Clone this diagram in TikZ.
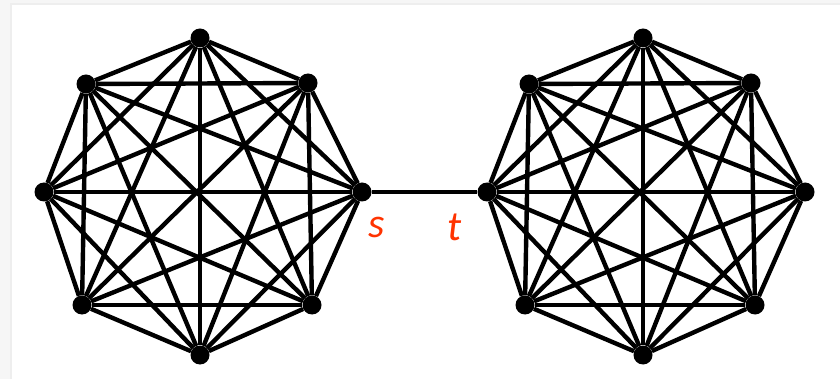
\documentclass[tikz,border=0pt]{standalone}
\usepackage{fontspec}
\newfontfamily\labelfont{Carlito}
\definecolor{stred}{RGB}{255,51,0}

\begin{document}
\begin{tikzpicture}[x=1pt, y=-1pt,
    vertex/.style={shape=circle, fill, inner sep=0pt, minimum size=19pt},
    edge/.style={line width=4.4pt},
    lbl/.style={text=stred, font=\labelfont\itshape\fontsize{42}{42}\selectfont}]

      \useasboundingbox (0,0) rectangle (840,379);
      \fill[gray!7] (0,0) rectangle (840,379);
      \fill[gray!13] (10,3) rectangle (840,379);
      \fill[white] (12,5) rectangle (840,379);

      % left clique
      \node[vertex] (a1) at (44,192){};
      \node[vertex] (a2) at (86,84){};
      \node[vertex] (a3) at (200,38){};
      \node[vertex] (a4) at (308,83){};
      \node[vertex] (a5) at (362,192){};
      \node[vertex] (a6) at (312,305){};
      \node[vertex] (a7) at (200,355){};
      \node[vertex] (a8) at (82,305){};

      % right clique
      \node[vertex] (b1) at (487,192){};
      \node[vertex] (b2) at (529,84){};
      \node[vertex] (b3) at (643,38){};
      \node[vertex] (b4) at (751,83){};
      \node[vertex] (b5) at (805,192){};
      \node[vertex] (b6) at (755,305){};
      \node[vertex] (b7) at (643,355){};
      \node[vertex] (b8) at (525,305){};

      \node[lbl] (s) at (377,227){s};
      \node[lbl] (t) at (455,227){t};

      \foreach \i in {1,...,7}{
        \pgfmathtruncatemacro{\k}{\i+1}
        \foreach \j in {\k,...,8}{
          \draw[edge] (a\i) to (a\j);
          \draw[edge] (b\i) to (b\j);
        }
      }

      \draw[edge] (a5) to (b1);
\end{tikzpicture}
\end{document}
